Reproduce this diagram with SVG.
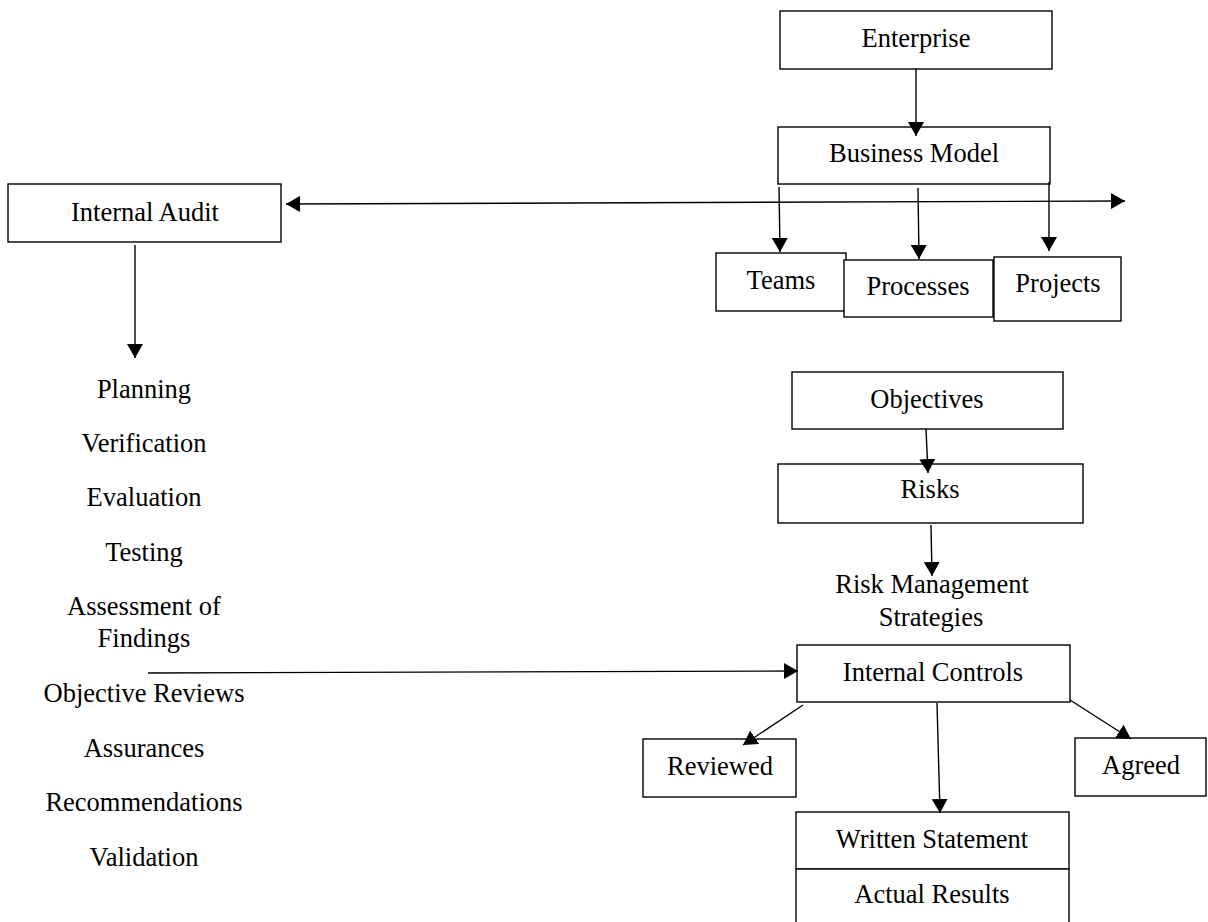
<svg xmlns="http://www.w3.org/2000/svg" width="1208" height="922" viewBox="0 0 1208 922">
  <style>
    .box { fill: #fff; stroke: #000; stroke-width: 1.4; }
    .lbl { font-family: "Liberation Serif", "Times New Roman", serif; font-size: 26.5px; fill: #000; text-anchor: middle; }
    .edge { fill: none; stroke: #000; stroke-width: 1.4; marker-end: url(#arrow); }
  </style>
  <defs>
    <marker id="arrow" markerUnits="userSpaceOnUse" markerWidth="15" markerHeight="16" refX="14" refY="8" orient="auto-start-reverse">
      <path d="M0,0 L14,8 L0,16 z" fill="#000"/>
    </marker>
  </defs>
  <rect width="1208" height="922" fill="#fff"/>

  <g id="enterprise">
    <rect class="box" x="780" y="11" width="272" height="58"/>
    <text class="lbl" x="916" y="47">Enterprise</text>
  </g>
  <g id="business-model">
    <rect class="box" x="778" y="127" width="272" height="57"/>
    <text class="lbl" x="914" y="162">Business Model</text>
  </g>
  <g id="teams">
    <rect class="box" x="716" y="253" width="130" height="58"/>
    <text class="lbl" x="781" y="289">Teams</text>
  </g>
  <g id="processes">
    <rect class="box" x="844" y="260" width="149" height="57"/>
    <text class="lbl" x="918" y="295">Processes</text>
  </g>
  <g id="projects">
    <rect class="box" x="994" y="257" width="127" height="64"/>
    <text class="lbl" x="1058" y="292">Projects</text>
  </g>
  <g id="internal-audit">
    <rect class="box" x="8" y="184" width="273" height="58"/>
    <text class="lbl" x="145" y="221">Internal Audit</text>
  </g>

  <g id="audit-steps">
    <text class="lbl" x="144" y="398">Planning</text>
    <text class="lbl" x="144" y="452">Verification</text>
    <text class="lbl" x="144" y="506">Evaluation</text>
    <text class="lbl" x="144" y="561">Testing</text>
    <text class="lbl" x="144" y="615">Assessment of</text>
    <text class="lbl" x="144" y="647">Findings</text>
    <text class="lbl" x="144" y="702">Objective Reviews</text>
    <text class="lbl" x="144" y="757">Assurances</text>
    <text class="lbl" x="144" y="811">Recommendations</text>
    <text class="lbl" x="144" y="866">Validation</text>
  </g>

  <g id="objectives">
    <rect class="box" x="792" y="372" width="271" height="57"/>
    <text class="lbl" x="927" y="408">Objectives</text>
  </g>
  <g id="risks">
    <rect class="box" x="778" y="464" width="305" height="59"/>
    <text class="lbl" x="930" y="498">Risks</text>
  </g>
  <g id="risk-management-strategies">
    <text class="lbl" x="932" y="593">Risk Management</text>
    <text class="lbl" x="931" y="626">Strategies</text>
  </g>
  <g id="internal-controls">
    <rect class="box" x="797" y="645" width="273" height="57"/>
    <text class="lbl" x="933" y="681">Internal Controls</text>
  </g>
  <g id="reviewed">
    <rect class="box" x="643" y="739" width="153" height="58"/>
    <text class="lbl" x="720" y="775">Reviewed</text>
  </g>
  <g id="agreed">
    <rect class="box" x="1075" y="738" width="131" height="58"/>
    <text class="lbl" x="1141" y="774">Agreed</text>
  </g>
  <g id="written-statement">
    <rect class="box" x="796" y="812" width="273" height="57"/>
    <text class="lbl" x="932" y="848">Written Statement</text>
  </g>
  <g id="actual-results">
    <rect class="box" x="796" y="869" width="273" height="60"/>
    <text class="lbl" x="932" y="903">Actual Results</text>
  </g>

  <!-- connectors drawn last so the arrowheads sit on top of the boxes -->
  <g id="connectors">
    <line class="edge" x1="916" y1="69" x2="916" y2="136"/>
    <line class="edge" x1="286" y1="204" x2="1125" y2="201" style="marker-start: url(#arrow)"/>
    <line class="edge" x1="779" y1="187" x2="780" y2="252"/>
    <line class="edge" x1="918" y1="188" x2="919" y2="259"/>
    <line class="edge" x1="1049" y1="182" x2="1049" y2="251"/>
    <line class="edge" x1="135" y1="245" x2="135" y2="358"/>
    <line class="edge" x1="926" y1="429" x2="928" y2="473"/>
    <line class="edge" x1="931" y1="525" x2="932" y2="576"/>
    <line class="edge" x1="148" y1="673" x2="798" y2="671"/>
    <line class="edge" x1="803" y1="705" x2="743" y2="745"/>
    <line class="edge" x1="1070" y1="700" x2="1131" y2="739"/>
    <line class="edge" x1="937" y1="703" x2="940" y2="813"/>
  </g>
</svg>
